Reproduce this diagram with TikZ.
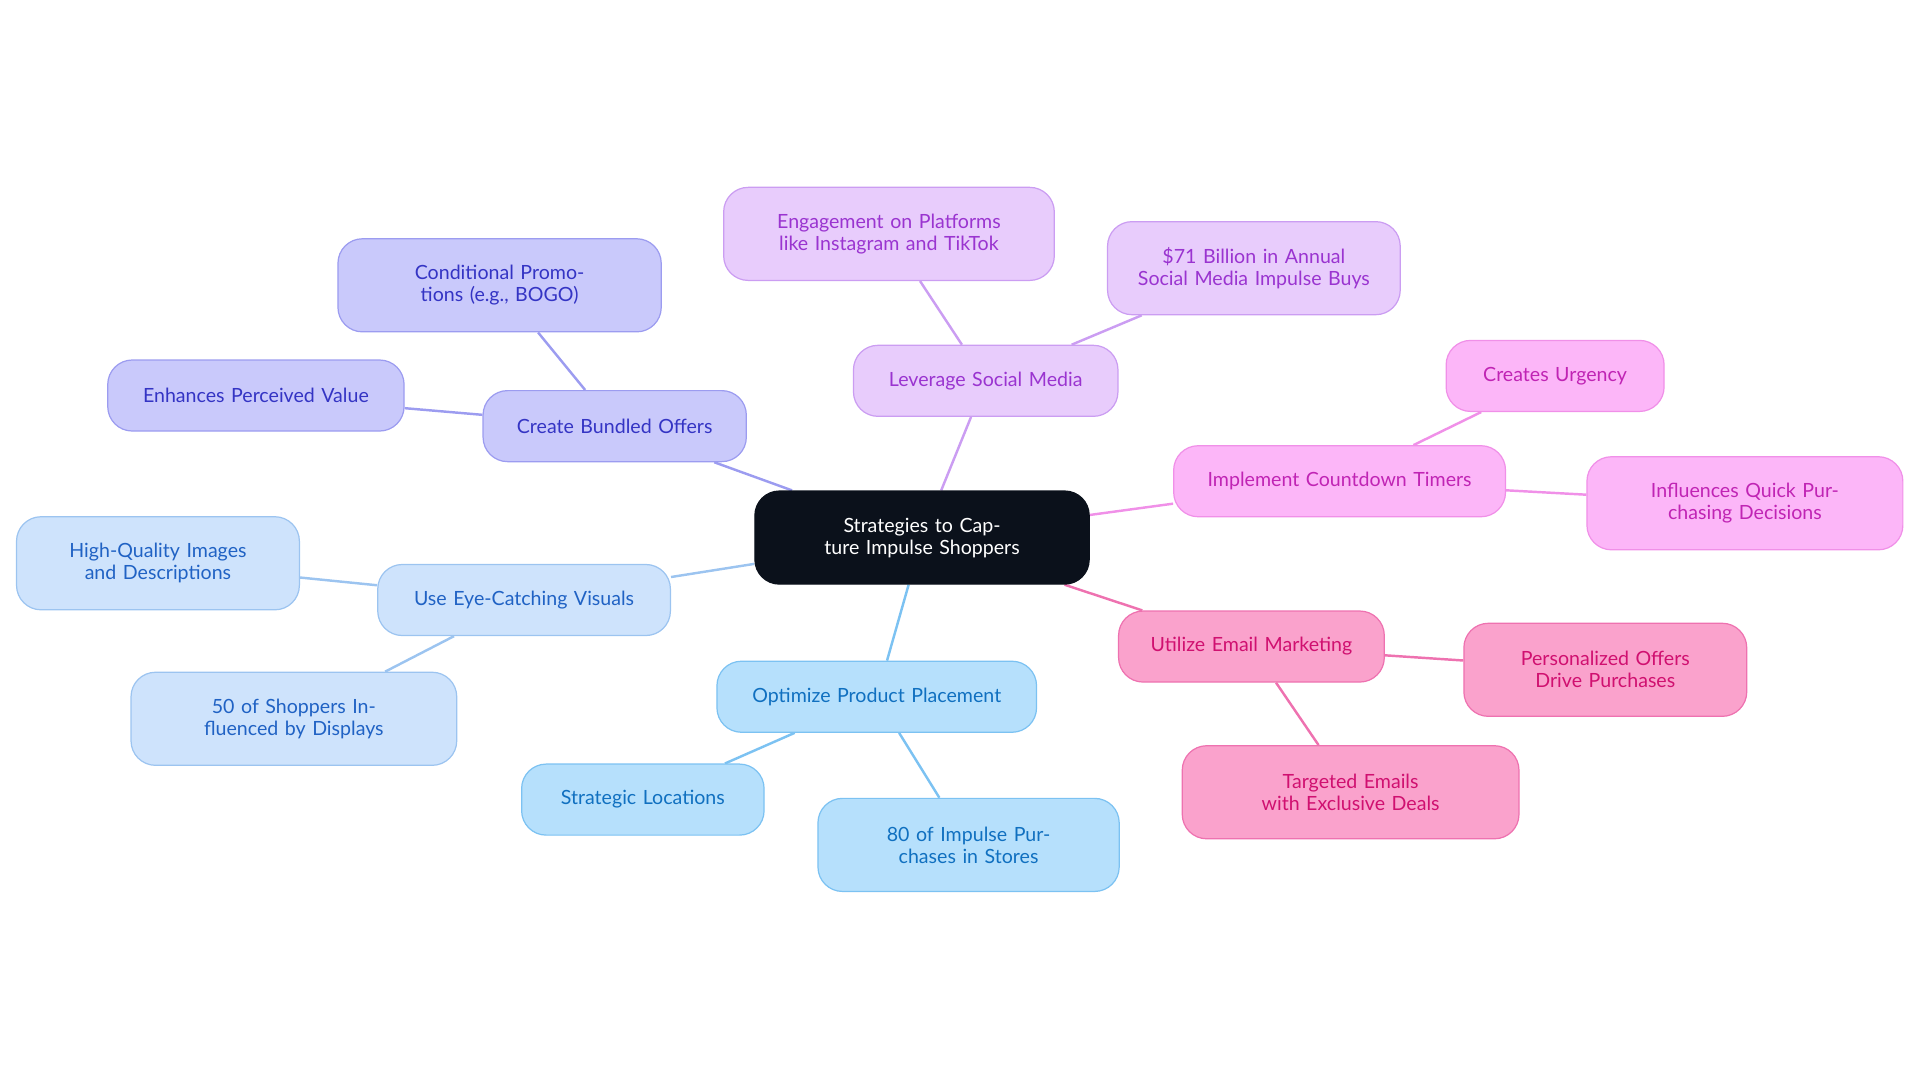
\documentclass[tikz,border=0pt]{standalone}
\usepackage{fontspec}
\setmainfont{Lato}
\usetikzlibrary{backgrounds}
\definecolor{cB}{HTML}{C9C9FB}\definecolor{dB}{HTML}{9C9CF0}\definecolor{tB}{HTML}{3434C4}
\definecolor{cS}{HTML}{E8CCFC}\definecolor{dS}{HTML}{CB9DF2}\definecolor{tS}{HTML}{9A34D0}
\definecolor{cT}{HTML}{FCB6F8}\definecolor{dT}{HTML}{F090E8}\definecolor{tT}{HTML}{C024B4}
\definecolor{cE}{HTML}{FAA2CC}\definecolor{dE}{HTML}{EE72B0}\definecolor{tE}{HTML}{D01070}
\definecolor{cP}{HTML}{B6E0FC}\definecolor{dP}{HTML}{7CC2F2}\definecolor{tP}{HTML}{1070C0}
\definecolor{cV}{HTML}{CEE3FC}\definecolor{dV}{HTML}{9CC4F0}\definecolor{tV}{HTML}{2062C4}
\definecolor{cC}{HTML}{0B111B}
\tikzset{
 box/.style n args={4}{draw=#2,fill=#1,text=#3,rounded corners=20pt,line width=1pt,
   minimum width=#4,minimum height=58pt,text width=#4-40pt,align=center,
   font=\fontsize{16}{18}\selectfont,inner sep=0pt},
 tall/.style={minimum height=76pt},
 ln/.style={draw=#1,line width=2pt}
}
\begin{document}
\begin{tikzpicture}[x=1pt,y=-1pt]
\useasboundingbox (0,0) rectangle (1568,884);
\node[box={cC}{cC}{white}{273pt},tall] (c) at (753,439) {Strategies to Capture Impulse Shoppers};
\node[box={cB}{dB}{tB}{215pt}] (b) at (502,348) {Create Bundled Offers};
\node[box={cB}{dB}{tB}{264pt},tall] (b1) at (408,233) {Conditional Promotions (e.g., BOGO)};
\node[box={cB}{dB}{tB}{242pt}] (b2) at (209,323) {Enhances Perceived Value};
\node[box={cS}{dS}{tS}{216pt}] (s) at (805,311) {Leverage Social Media};
\node[box={cS}{dS}{tS}{270pt},tall] (s1) at (726,191) {Engagement on Platforms like Instagram and TikTok};
\node[box={cS}{dS}{tS}{239pt},tall] (s2) at (1024,219) {\$71 Billion in Annual Social Media Impulse Buys};
\node[box={cT}{dT}{tT}{271pt}] (t) at (1094,393) {Implement Countdown Timers};
\node[box={cT}{dT}{tT}{178pt}] (t1) at (1270,307) {Creates Urgency};
\node[box={cT}{dT}{tT}{258pt},tall] (t2) at (1425,411) {Influences Quick Purchasing Decisions};
\node[box={cE}{dE}{tE}{217pt}] (e) at (1022,528) {Utilize Email Marketing};
\node[box={cE}{dE}{tE}{231pt},tall] (e1) at (1311,547) {Personalized Offers Drive Purchases};
\node[box={cE}{dE}{tE}{275pt},tall] (e2) at (1103,647) {Targeted Emails with Exclusive Deals};
\node[box={cP}{dP}{tP}{261pt}] (p) at (716,569) {Optimize Product Placement};
\node[box={cP}{dP}{tP}{198pt}] (p1) at (525,653) {Strategic Locations};
\node[box={cP}{dP}{tP}{246pt},tall] (p2) at (791,690) {80 of Impulse Purchases in Stores};
\node[box={cV}{dV}{tV}{239pt}] (v) at (428,490) {Use Eye-Catching Visuals};
\node[box={cV}{dV}{tV}{231pt},tall] (v1) at (129,460) {High-Quality Images and Descriptions};
\node[box={cV}{dV}{tV}{266pt},tall] (v2) at (240,587) {50 of Shoppers Influenced by Displays};
\begin{scope}[on background layer]
\draw[ln=dB] (c) -- (b); \draw[ln=dB] (b) -- (b1); \draw[ln=dB] (b) -- (b2);
\draw[ln=dS] (c) -- (s); \draw[ln=dS] (s) -- (s1); \draw[ln=dS] (s) -- (s2);
\draw[ln=dT] (c) -- (t); \draw[ln=dT] (t) -- (t1); \draw[ln=dT] (t) -- (t2);
\draw[ln=dE] (c) -- (e); \draw[ln=dE] (e) -- (e1); \draw[ln=dE] (e) -- (e2);
\draw[ln=dP] (c) -- (p); \draw[ln=dP] (p) -- (p1); \draw[ln=dP] (p) -- (p2);
\draw[ln=dV] (c) -- (v); \draw[ln=dV] (v) -- (v1); \draw[ln=dV] (v) -- (v2);
\end{scope}
\end{tikzpicture}
\end{document}
